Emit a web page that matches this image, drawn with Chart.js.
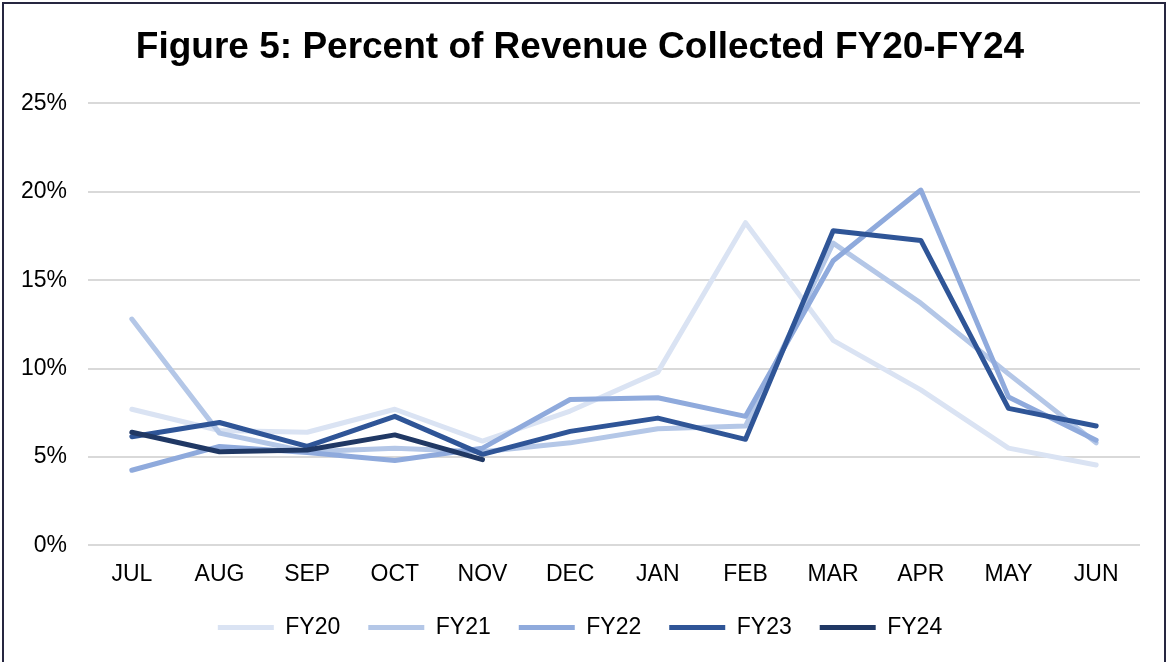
<!DOCTYPE html>
<html>
<head>
<meta charset="utf-8">
<script src="https://cdn.jsdelivr.net/npm/chart.js@4.4.1/dist/chart.umd.min.js"></script>
<style>
  html, body { margin: 0; padding: 0; background: #fff; overflow: hidden; }
  #frame { position: absolute; left: 2px; top: 2px; width: 1160px; height: 700px; border: 2px solid #262640; background: #fff; }
  #wrap { position: absolute; left: 0; top: 0; width: 1160px; height: 660px; }
</style>
</head>
<body>
<div id="frame"><div id="wrap"><canvas id="c"></canvas></div></div>
<script>
const months = ["JUL","AUG","SEP","OCT","NOV","DEC","JAN","FEB","MAR","APR","MAY","JUN"];
const seriesNames = ["FY20","FY21","FY22","FY23","FY24"];
const fy20 = [7.7, 6.5, 6.4, 7.7, 5.9, 7.6, 9.8, 18.25, 11.6, 8.8, 5.5, 4.55];
const fy21 = [12.8, 6.35, 5.3, 5.5, 5.3, 5.8, 6.6, 6.75, 17.1, 13.7, 9.7, 5.8];
const fy22 = [4.25, 5.6, 5.25, 4.8, 5.5, 8.25, 8.35, 7.3, 16.1, 20.1, 8.4, 5.95];
const fy23 = [6.15, 6.95, 5.6, 7.3, 5.15, 6.45, 7.2, 6.0, 17.8, 17.25, 7.75, 6.75];
const fy24 = [6.4, 5.3, 5.4, 6.25, 4.85, null, null, null, null, null, null, null];
const colors = ["#dae3f3", "#b4c7e7", "#8faadc", "#2f5597", "#203864"];
const yTicks = [0, 5, 10, 15, 20, 25];
const titleText = "Figure 5: Percent of Revenue Collected FY20-FY24";

const allSeries = [fy20, fy21, fy22, fy23, fy24];
const datasets = allSeries.map((d, i) => ({
  label: seriesNames[i],
  data: d,
  borderColor: colors[i],
  backgroundColor: colors[i],
  borderWidth: 5,
  borderCapStyle: 'round',
  borderJoinStyle: 'round',
  pointRadius: 0,
  pointHoverRadius: 0,
  tension: 0,
  fill: false,
  spanGaps: false,
  order: allSeries.length - i
}));

Chart.defaults.font.family = "'Liberation Sans', Arial, sans-serif";
Chart.defaults.color = "#000";

const chart = new Chart(document.getElementById('c'), {
  type: 'line',
  data: { labels: months, datasets },
  options: {
    responsive: true,
    maintainAspectRatio: false,
    animation: false,
    layout: { padding: { left: 16, right: 24, top: 15, bottom: 0 } },
    plugins: {
      title: {
        display: true,
        text: titleText,
        font: { size: 37, weight: 'bold' },
        color: '#000',
        padding: { top: 7, bottom: 33 }
      },
      legend: {
        position: 'bottom',
        labels: {
          usePointStyle: true,
          pointStyle: 'line',
          pointStyleWidth: 56,
          font: { size: 23 },
          color: '#000',
          padding: 28,
          sort: (a, b) => a.datasetIndex - b.datasetIndex
        }
      },
      tooltip: { enabled: false }
    },
    scales: {
      x: {
        offset: true,
        grid: { display: false, drawTicks: false },
        border: { display: false },
        ticks: { font: { size: 23 }, color: '#000', padding: 15, maxRotation: 0 }
      },
      y: {
        min: 0,
        max: 25,
        afterBuildTicks: (axis) => { axis.ticks = yTicks.map(v => ({ value: v })); },
        afterFit: (axis) => { axis.width = 68; },
        grid: { color: '#d9d9d9', lineWidth: 2, drawTicks: false },
        border: { display: false },
        ticks: { font: { size: 23 }, color: '#000', padding: 21, callback: v => v + '%' }
      }
    }
  }
});

// nudge legend drawing upward so it sits closer to the axis labels
const lg = chart.legend;
const origDraw = lg.draw.bind(lg);
lg.draw = function () {
  const ctx = this.ctx;
  ctx.save();
  ctx.translate(0, -15);
  origDraw();
  ctx.restore();
};
chart.draw();
</script>
</body>
</html>
